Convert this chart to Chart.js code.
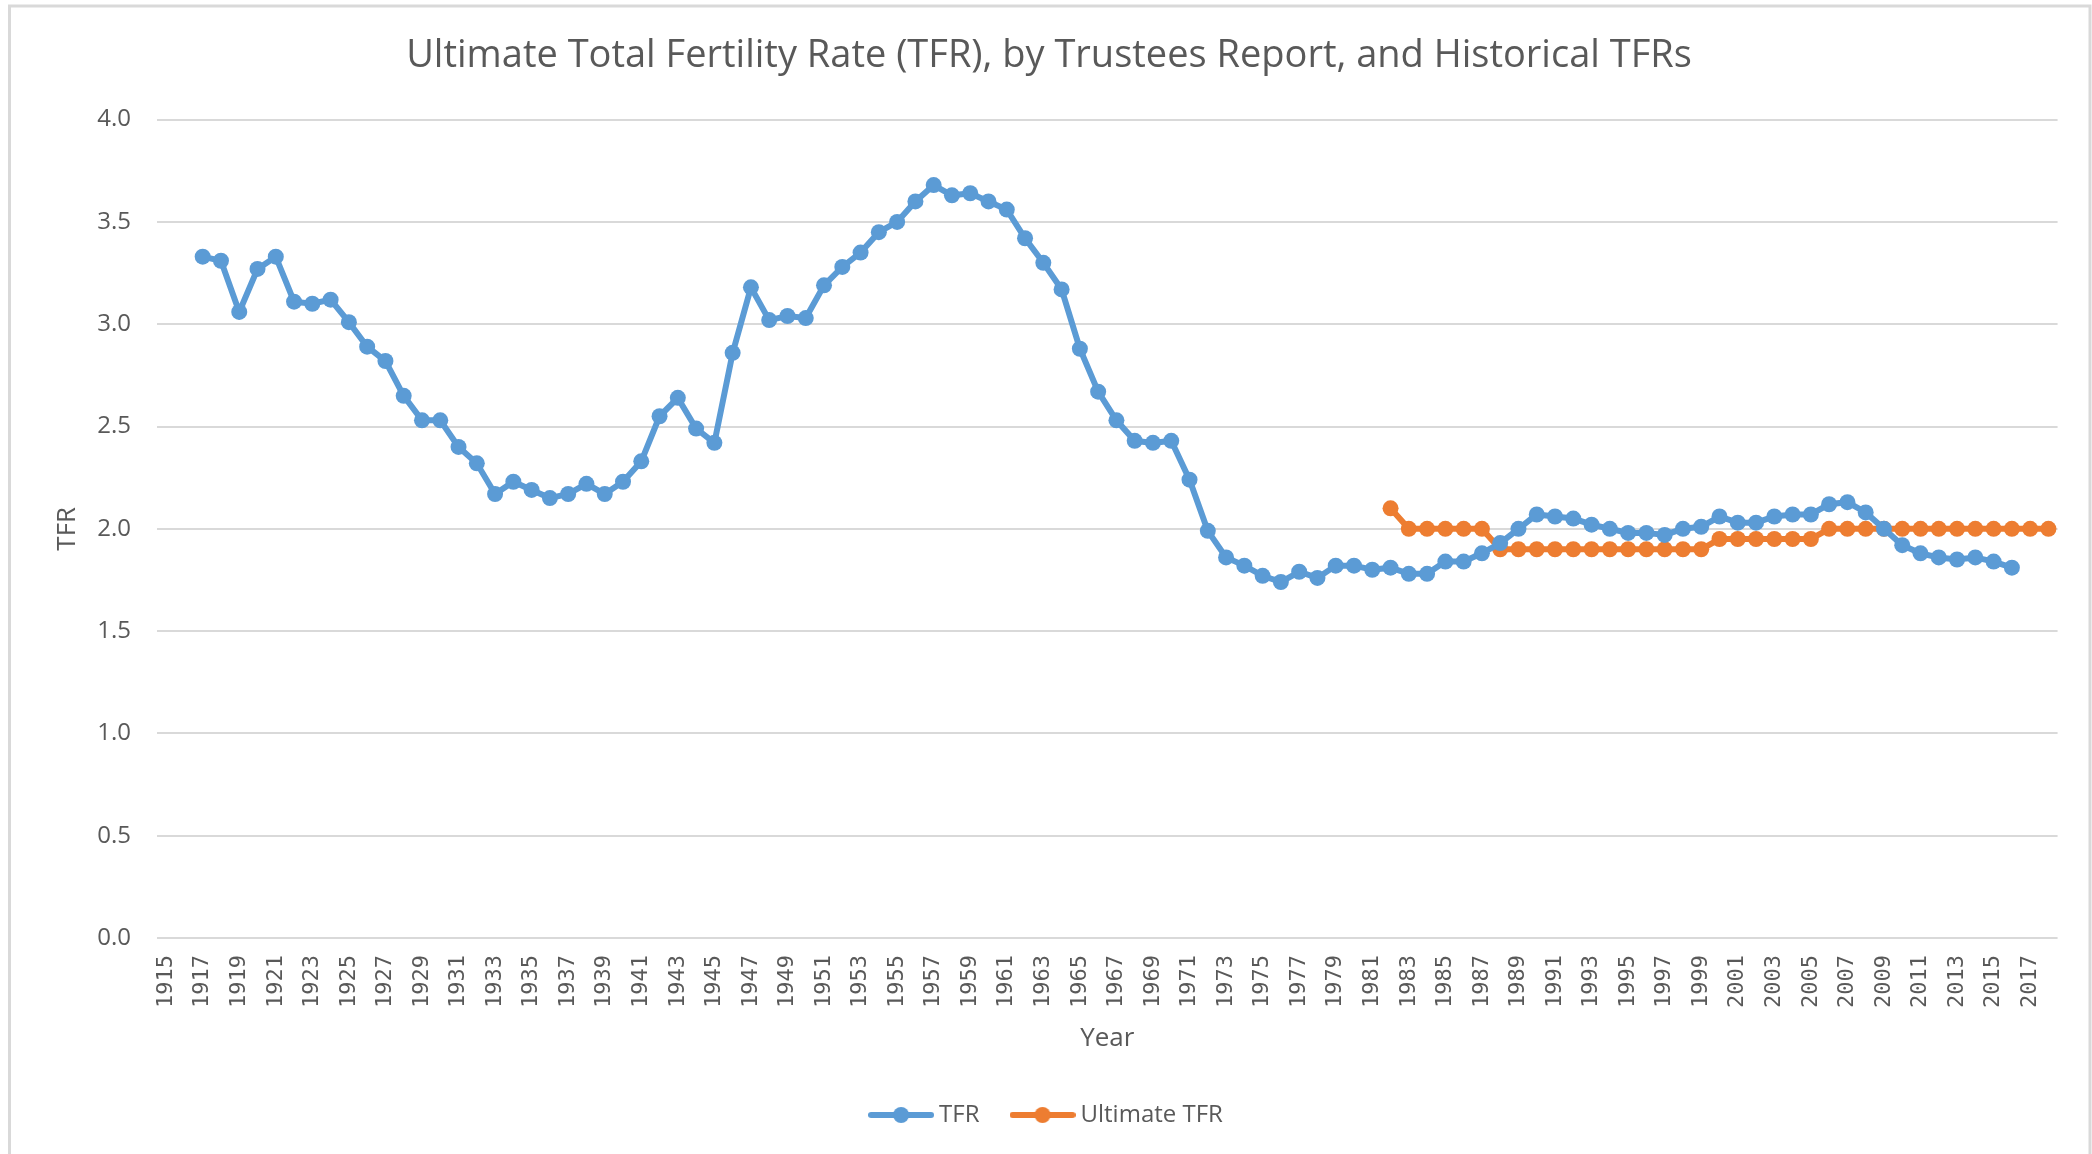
<!DOCTYPE html>
<html>
<head>
<meta charset="utf-8">
<script src="https://cdn.jsdelivr.net/npm/chart.js@4.4.1/dist/chart.umd.min.js"></script>
<style>
  html, body { margin: 0; padding: 0; background: #fff; }
</style>
</head>
<body>
<canvas id="chart" width="2092" height="1154"></canvas>
<script>
// categories: one per year
const years = [
  1915, 1916, 1917, 1918, 1919, 1920, 1921, 1922, 1923, 1924, 1925, 1926, 1927, 1928,
  1929, 1930, 1931, 1932, 1933, 1934, 1935, 1936, 1937, 1938, 1939, 1940, 1941, 1942,
  1943, 1944, 1945, 1946, 1947, 1948, 1949, 1950, 1951, 1952, 1953, 1954, 1955, 1956,
  1957, 1958, 1959, 1960, 1961, 1962, 1963, 1964, 1965, 1966, 1967, 1968, 1969, 1970,
  1971, 1972, 1973, 1974, 1975, 1976, 1977, 1978, 1979, 1980, 1981, 1982, 1983, 1984,
  1985, 1986, 1987, 1988, 1989, 1990, 1991, 1992, 1993, 1994, 1995, 1996, 1997, 1998,
  1999, 2000, 2001, 2002, 2003, 2004, 2005, 2006, 2007, 2008, 2009, 2010, 2011, 2012,
  2013, 2014, 2015, 2016, 2017, 2018
];

// historical TFR, 1915..2018 (no data for 1915-16 and 2017-18)
const tfr = [
  null, null, 3.33, 3.31, 3.06, 3.27, 3.33, 3.11, 3.10, 3.12, 3.01, 2.89, 2.82, 2.65,
  2.53, 2.53, 2.40, 2.32, 2.17, 2.23, 2.19, 2.15, 2.17, 2.22, 2.17, 2.23, 2.33, 2.55,
  2.64, 2.49, 2.42, 2.86, 3.18, 3.02, 3.04, 3.03, 3.19, 3.28, 3.35, 3.45, 3.50, 3.60,
  3.68, 3.63, 3.64, 3.60, 3.56, 3.42, 3.30, 3.17, 2.88, 2.67, 2.53, 2.43, 2.42, 2.43,
  2.24, 1.99, 1.86, 1.82, 1.77, 1.74, 1.79, 1.76, 1.82, 1.82, 1.80, 1.81, 1.78, 1.78,
  1.84, 1.84, 1.88, 1.93, 2.00, 2.07, 2.06, 2.05, 2.02, 2.00, 1.98, 1.98, 1.97, 2.00,
  2.01, 2.06, 2.03, 2.03, 2.06, 2.07, 2.07, 2.12, 2.13, 2.08, 2.00, 1.92, 1.88, 1.86,
  1.85, 1.86, 1.84, 1.81, null, null
];

// ultimate TFR by Trustees Report year
const ultimateYears = [
  1982, 1983, 1984, 1985, 1986, 1987, 1988, 1989, 1990, 1991, 1992, 1993, 1994, 1995,
  1996, 1997, 1998, 1999, 2000, 2001, 2002, 2003, 2004, 2005, 2006, 2007, 2008, 2009,
  2010, 2011, 2012, 2013, 2014, 2015, 2016, 2017, 2018
];
const ultimateTfr = [
  2.1, 2.0, 2.0, 2.0, 2.0, 2.0, 1.9, 1.9, 1.9, 1.9, 1.9, 1.9, 1.9, 1.9,
  1.9, 1.9, 1.9, 1.9, 1.95, 1.95, 1.95, 1.95, 1.95, 1.95, 2.0, 2.0, 2.0, 2.0,
  2.0, 2.0, 2.0, 2.0, 2.0, 2.0, 2.0, 2.0, 2.0
];

const BLUE = "#5B9BD5";
const ORANGE = "#ED7D31";
const GREY_TEXT = "#595959";
const GRID = "#d9d9d9";

// legend marker: short line with a dot in the middle
function legendMark(color) {
  const c = document.createElement("canvas");
  c.width = 66;
  c.height = 18;
  const g = c.getContext("2d");
  g.strokeStyle = color;
  g.lineWidth = 6;
  g.lineCap = "round";
  g.beginPath();
  g.moveTo(3, 9);
  g.lineTo(63, 9);
  g.stroke();
  g.fillStyle = color;
  g.beginPath();
  g.arc(33, 9, 8, 0, Math.PI * 2);
  g.fill();
  return c;
}
const marks = [legendMark(BLUE), legendMark(ORANGE)];

const framePlugin = {
  id: "frame",
  beforeDraw(chart) {
    const ctx = chart.ctx;
    ctx.save();
    ctx.fillStyle = "#fff";
    ctx.fillRect(0, 0, chart.width, chart.height);
    ctx.strokeStyle = GRID;
    ctx.lineWidth = 3;
    ctx.strokeRect(9.5, 6, 2080.5, 1200);
    ctx.restore();
  },
};

const ctx = document.getElementById("chart").getContext("2d");
new Chart(ctx, {
  type: "line",
  data: {
    labels: years,
    datasets: [
      {
        label: "TFR",
        data: tfr,
        borderColor: BLUE,
        backgroundColor: BLUE,
        pointBackgroundColor: BLUE,
      },
      {
        label: "Ultimate TFR",
        data: ultimateYears.map((yr, i) => ({ x: yr, y: ultimateTfr[i] })),
        borderColor: ORANGE,
        backgroundColor: ORANGE,
        pointBackgroundColor: ORANGE,
      },
    ],
  },
  options: {
    responsive: false,
    animation: false,
    layout: { padding: { left: 40, right: 34, top: 0, bottom: 17 } },
    elements: {
      line: { borderWidth: 6, tension: 0, fill: false },
      point: { radius: 8, hoverRadius: 8, borderWidth: 0 },
    },
    plugins: {
      tooltip: { enabled: false },
      title: {
        display: true,
        text: "Ultimate Total Fertility Rate (TFR), by Trustees Report, and Historical TFRs",
        color: GREY_TEXT,
        font: { family: "Open Sans", size: 38, weight: "normal" },
        padding: { top: 33, bottom: 41 },
      },
      legend: {
        position: "bottom",
        labels: {
          color: GREY_TEXT,
          font: { family: "Open Sans", size: 24 },
          padding: 37,
          usePointStyle: true,
          pointStyleWidth: 52,
          generateLabels(chart) {
            const items = Chart.defaults.plugins.legend.labels.generateLabels(chart);
            items.forEach((it, i) => {
              it.pointStyle = marks[i];
            });
            return items;
          },
        },
      },
    },
    scales: {
      x: {
        type: "category",
        offset: true,
        grid: { display: false, drawTicks: false },
        border: { display: false },
        ticks: {
          autoSkip: false,
          minRotation: 90,
          maxRotation: 90,
          padding: 17,
          color: GREY_TEXT,
          font: { family: "DejaVu Sans Mono", size: 22 },
          callback: function (value, index) {
            return index % 2 === 0 ? this.getLabelForValue(value) : "";
          },
        },
        title: {
          display: true,
          text: "Year",
          color: GREY_TEXT,
          font: { family: "Open Sans", size: 26 },
          padding: { top: 0, bottom: 12 },
        },
        afterFit(scale) {
          scale.height = 128;
        },
      },
      y: {
        min: 0,
        max: 4,
        grid: { color: GRID, lineWidth: 2, drawTicks: false },
        border: { display: false },
        ticks: {
          stepSize: 0.5,
          padding: 26,
          color: GREY_TEXT,
          font: { family: "Open Sans", size: 24 },
          callback: (v) => v.toFixed(1),
        },
        title: {
          display: true,
          text: "TFR",
          color: GREY_TEXT,
          font: { family: "Open Sans", size: 26 },
          padding: { top: 12, bottom: 0 },
        },
        afterFit(scale) {
          scale.width = 117;
        },
      },
    },
  },
  plugins: [framePlugin],
});
</script>
</body>
</html>
